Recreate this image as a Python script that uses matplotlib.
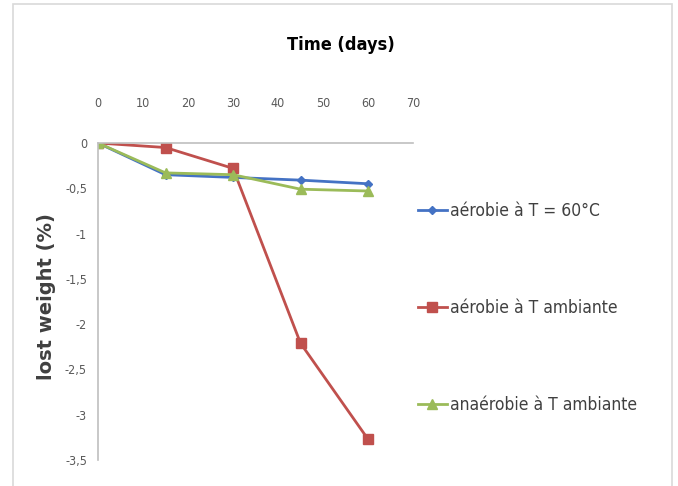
import matplotlib.pyplot as plt
from matplotlib.patches import Rectangle
from matplotlib.ticker import FuncFormatter

# data
days = [0, 15, 30, 45, 60]
aerobie_60 = [0, -0.35, -0.38, -0.41, -0.45]
aerobie_amb = [0, -0.05, -0.28, -2.21, -3.27]
anaerobie_amb = [0, -0.33, -0.35, -0.51, -0.53]
labels = ["aérobie à T = 60°C", "aérobie à T ambiante", "anaérobie à T ambiante"]
colors = ["#4472C4", "#C0504D", "#9BBB59"]

plt.rcParams['font.family'] = ['DejaVu Sans']
plt.rcParams['font.stretch'] = 'condensed'

fig = plt.figure(figsize=(6.78, 4.86), dpi=100)
fig.patches.append(Rectangle((13 / 678, -0.05), 659 / 678, 1 - 4 / 486 + 0.05,
                             transform=fig.transFigure, fill=False,
                             edgecolor="#d9d9d9", linewidth=1.2))

ax = fig.add_axes([98 / 678, 1 - 460 / 486, 315 / 678, 317 / 486])

ax.plot(days, aerobie_60, color=colors[0], marker="D", markersize=4, lw=2, label=labels[0])
ax.plot(days, aerobie_amb, color=colors[1], marker="s", markersize=7, lw=2, label=labels[1])
ax.plot(days, anaerobie_amb, color=colors[2], marker="^", markersize=7, lw=2, label=labels[2])

ax.set_xlim(0, 70)
ax.set_ylim(-3.5, 0)
ax.set_xticks(range(0, 71, 10))
ax.set_yticks([-3.5, -3, -2.5, -2, -1.5, -1, -0.5, 0])
ax.yaxis.set_major_formatter(FuncFormatter(lambda v, p: ("%g" % v).replace(".", ",")))
ax.xaxis.tick_top()
ax.tick_params(length=0, labelsize=9, labelcolor="#595959", pad=8)
ax.tick_params(axis="x", pad=24)
for s in ["right", "bottom"]:
    ax.spines[s].set_visible(False)
for s in ["top", "left"]:
    ax.spines[s].set_color("#bfbfbf")
    ax.spines[s].set_linewidth(1.2)

fig.text(341 / 678, 1 - 45 / 486, "Time (days)", ha="center", va="center",
         fontsize=13, fontweight="bold", color="black")
fig.text(47 / 678, 1 - 297 / 486, "lost weight (%)", ha="center", va="center",
         rotation=90, fontsize=14, fontweight="bold", color="#404040",
         fontstretch="normal")

fig.legend(loc="center left", bbox_to_anchor=(402 / 678, 1 - 308 / 486),
           frameon=False, fontsize=12.5, labelspacing=4.55, handlelength=1.7,
           handletextpad=0.15, labelcolor="#404040")

fig.savefig("out.png", dpi=100)
